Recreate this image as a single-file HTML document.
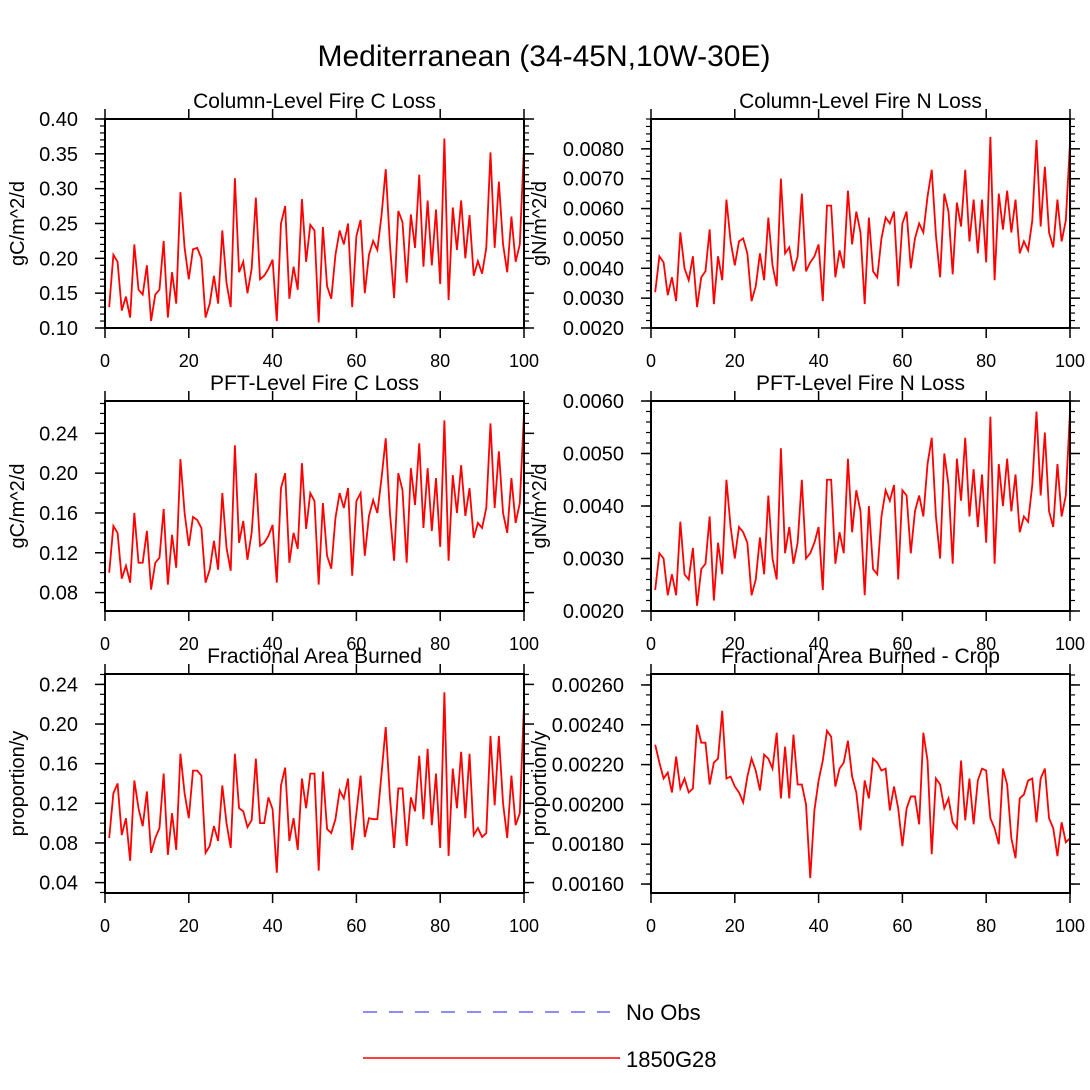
<!DOCTYPE html>
<html><head><meta charset="utf-8"><style>
body{margin:0;background:#fff}
svg{display:block;font-family:"Liberation Sans",sans-serif}
</style></head><body>
<svg id="c" width="1090" height="1090">
<text x="544" y="66" font-size="30" text-anchor="middle">Mediterranean (34-45N,10W-30E)</text>
<g>
<line x1="363" y1="1012" x2="610" y2="1012" stroke="#6666ff" stroke-width="1.5" stroke-dasharray="14,12"/>
<text x="626" y="1020" font-size="22">No Obs</text>
<line x1="363" y1="1058" x2="620" y2="1058" stroke="#ff0000" stroke-width="1.5"/>
<text x="626" y="1067" font-size="22">1850G28</text>
</g>
</svg>
<script>
const years=[];for(let i=1;i<=100;i++)years.push(i);
const colC=[0.13,0.205,0.195,0.125,0.145,0.115,0.22,0.155,0.148,0.19,0.11,0.148,0.155,0.225,0.115,0.18,0.135,0.295,0.215,0.17,0.213,0.215,0.2,0.115,0.135,0.175,0.135,0.24,0.165,0.13,0.315,0.18,0.195,0.15,0.185,0.287,0.17,0.175,0.185,0.198,0.11,0.25,0.275,0.142,0.188,0.155,0.285,0.195,0.248,0.24,0.108,0.245,0.16,0.142,0.205,0.24,0.22,0.25,0.13,0.232,0.255,0.15,0.205,0.225,0.212,0.262,0.328,0.22,0.143,0.268,0.252,0.165,0.263,0.215,0.32,0.188,0.283,0.19,0.27,0.163,0.372,0.14,0.273,0.212,0.283,0.2,0.262,0.175,0.196,0.178,0.215,0.352,0.215,0.31,0.22,0.18,0.26,0.195,0.22,0.36];
const colN=[0.0032,0.0044,0.0042,0.0031,0.0037,0.0029,0.0052,0.0040,0.0036,0.0044,0.0027,0.0037,0.0039,0.0053,0.0028,0.0044,0.0036,0.0063,0.0049,0.0041,0.0049,0.0050,0.0045,0.0029,0.0034,0.0045,0.0036,0.0057,0.0041,0.0034,0.0070,0.0045,0.0047,0.0039,0.0044,0.0065,0.0039,0.0042,0.0044,0.0048,0.0029,0.0061,0.0061,0.0037,0.0046,0.0040,0.0066,0.0048,0.0059,0.0052,0.0028,0.0057,0.0039,0.0037,0.0050,0.0057,0.0055,0.0059,0.0034,0.0055,0.0059,0.0040,0.0050,0.0055,0.0052,0.0064,0.0073,0.0051,0.0037,0.0065,0.0059,0.0038,0.0062,0.0054,0.0073,0.0049,0.0063,0.0045,0.0063,0.0042,0.0084,0.0036,0.0065,0.0053,0.0066,0.0052,0.0063,0.0045,0.0049,0.0046,0.0056,0.0083,0.0054,0.0074,0.0052,0.0047,0.0063,0.0049,0.0056,0.0082];
const pftC=[0.10,0.147,0.14,0.094,0.107,0.09,0.16,0.11,0.11,0.142,0.083,0.11,0.115,0.164,0.088,0.138,0.105,0.214,0.16,0.127,0.156,0.153,0.145,0.09,0.103,0.132,0.103,0.18,0.125,0.102,0.228,0.13,0.152,0.113,0.14,0.2,0.127,0.13,0.137,0.148,0.09,0.185,0.2,0.11,0.14,0.124,0.21,0.144,0.18,0.172,0.088,0.17,0.117,0.104,0.155,0.18,0.165,0.185,0.097,0.172,0.18,0.117,0.157,0.173,0.16,0.195,0.235,0.16,0.112,0.2,0.183,0.11,0.205,0.168,0.23,0.145,0.205,0.142,0.195,0.126,0.253,0.112,0.198,0.16,0.208,0.157,0.185,0.135,0.15,0.145,0.165,0.25,0.165,0.222,0.16,0.14,0.195,0.15,0.17,0.26];
const pftN=[0.0024,0.0031,0.0030,0.0023,0.0027,0.0023,0.0037,0.0027,0.0026,0.0032,0.0021,0.0028,0.0029,0.0038,0.0022,0.0033,0.0027,0.0045,0.0036,0.0030,0.0036,0.0035,0.0033,0.0023,0.0026,0.0034,0.0027,0.0042,0.0030,0.0026,0.0051,0.0031,0.0036,0.0029,0.0033,0.0045,0.0030,0.0031,0.0033,0.0036,0.0024,0.0045,0.0045,0.0029,0.0035,0.0031,0.0049,0.0035,0.0043,0.0039,0.0023,0.0040,0.0028,0.0027,0.0038,0.0043,0.0041,0.0044,0.0026,0.0043,0.0042,0.0031,0.0039,0.0042,0.0038,0.0048,0.0053,0.0038,0.0030,0.0050,0.0044,0.0029,0.0049,0.0041,0.0053,0.0038,0.0047,0.0036,0.0046,0.0033,0.0057,0.0029,0.0048,0.0040,0.0049,0.0039,0.0046,0.0035,0.0038,0.0037,0.0044,0.0058,0.0042,0.0054,0.0039,0.0036,0.0048,0.0038,0.0042,0.0058];
const fab=[0.085,0.13,0.14,0.088,0.105,0.062,0.143,0.115,0.097,0.132,0.07,0.085,0.095,0.15,0.068,0.11,0.073,0.17,0.13,0.105,0.153,0.153,0.148,0.07,0.077,0.097,0.082,0.138,0.1,0.075,0.17,0.115,0.112,0.096,0.103,0.165,0.1,0.1,0.126,0.114,0.05,0.138,0.156,0.082,0.105,0.073,0.145,0.115,0.15,0.15,0.052,0.152,0.094,0.09,0.104,0.133,0.125,0.145,0.073,0.11,0.148,0.086,0.105,0.104,0.104,0.15,0.197,0.126,0.075,0.135,0.135,0.077,0.126,0.112,0.168,0.104,0.175,0.098,0.15,0.075,0.232,0.067,0.155,0.115,0.172,0.105,0.17,0.088,0.095,0.086,0.09,0.188,0.118,0.188,0.12,0.085,0.148,0.098,0.11,0.22];
const fabCrop=[0.00230,0.00221,0.00213,0.00216,0.00206,0.00224,0.00208,0.00213,0.00206,0.00208,0.00240,0.00231,0.00231,0.00210,0.00221,0.00223,0.00247,0.00213,0.00214,0.00209,0.00206,0.00201,0.00214,0.00223,0.00217,0.00207,0.00225,0.00223,0.00218,0.00236,0.00203,0.00229,0.00203,0.00235,0.00210,0.00210,0.00200,0.00163,0.00197,0.00212,0.00222,0.00237,0.00234,0.00209,0.00218,0.00221,0.00232,0.00214,0.00206,0.00187,0.00212,0.00203,0.00223,0.00221,0.00217,0.00218,0.00197,0.00209,0.00198,0.00179,0.00198,0.00204,0.00204,0.00190,0.00236,0.00222,0.00175,0.00213,0.00210,0.00198,0.00203,0.00191,0.00188,0.00222,0.00192,0.00213,0.00190,0.00212,0.00218,0.00217,0.00193,0.00188,0.00180,0.00218,0.00210,0.00183,0.00173,0.00203,0.00205,0.00212,0.00213,0.00191,0.00213,0.00218,0.00193,0.00188,0.00174,0.00191,0.00181,0.00183];
const xTicks=[0,20,40,60,80,100];
const NS="http://www.w3.org/2000/svg";
const svg=document.getElementById('c');
function el(t,a,p){const e=document.createElementNS(NS,t);for(const k in a)e.setAttribute(k,a[k]);(p||svg).appendChild(e);return e;}
const panels=[
 {n:'column-fire-c',title:'Column-Level Fire C Loss',yt:'gC/m^2/d',data:colC,x0:105,y0:119,y1:328,ymin:0.10,ymax:0.40,maj:0.05,min:0.01,dec:2,ytx:24},
 {n:'column-fire-n',title:'Column-Level Fire N Loss',yt:'gN/m^2/d',data:colN,x0:651,y0:119,y1:328,ymin:0.0020,ymax:0.0090,maj:0.001,min:0.00025,dec:4,ytx:546,t0:0.002,t1:0.008},
 {n:'pft-fire-c',title:'PFT-Level Fire C Loss',yt:'gC/m^2/d',data:pftC,x0:105,y0:401,y1:611,ymin:0.0615,ymax:0.2725,maj:0.04,min:0.01,dec:2,ytx:24,t0:0.08,t1:0.24},
 {n:'pft-fire-n',title:'PFT-Level Fire N Loss',yt:'gN/m^2/d',data:pftN,x0:651,y0:401,y1:611,ymin:0.0020,ymax:0.0060,maj:0.001,min:0.0002,dec:4,ytx:546},
 {n:'frac-area-burned',title:'Fractional Area Burned',yt:'proportion/y',data:fab,x0:105,y0:674,y1:893,ymin:0.0295,ymax:0.2505,maj:0.04,min:0.01,dec:2,ytx:24,t0:0.04,t1:0.24},
 {n:'frac-area-burned-crop',title:'Fractional Area Burned - Crop',yt:'proportion/y',data:fabCrop,x0:651,y0:674,y1:893,ymin:0.001555,ymax:0.002655,maj:0.0002,min:0.00005,dec:5,ytx:546,t0:0.0016,t1:0.0026}
];
panels.forEach(p=>{
 const W=419;
 const g=el('g',{});
 
 
 const X=v=>p.x0+v/100*W;
 const Y=v=>p.y1-(v-p.ymin)/(p.ymax-p.ymin)*(p.y1-p.y0);
 const t0=p.t0!==undefined?p.t0:p.ymin, t1=p.t1!==undefined?p.t1:p.ymax;
 const nMin=Math.round((p.ymax-p.ymin)/p.min)+2;
 let start=Math.ceil((p.ymin-1e-12)/p.min)*p.min;
 for(let k=0;k<nMin;k++){const v=start+k*p.min;if(v>p.ymax+1e-12)break;const y=Y(v);
  el('line',{x1:p.x0-5,x2:p.x0,y1:y,y2:y,stroke:'#000','stroke-width':1.2},g);
  el('line',{x1:p.x0+W,x2:p.x0+W+5,y1:y,y2:y,stroke:'#000','stroke-width':1.2},g);}
 const nMaj=Math.round((t1-t0)/p.maj);
 for(let k=0;k<=nMaj;k++){const v=t0+k*p.maj;const y=Y(v);
  el('line',{x1:p.x0-10,x2:p.x0,y1:y,y2:y,stroke:'#000','stroke-width':1.5},g);
  el('line',{x1:p.x0+W,x2:p.x0+W+10,y1:y,y2:y,stroke:'#000','stroke-width':1.5},g);
  const t=el('text',{x:p.x0-27,y:y+7,'font-size':20,'text-anchor':'end'},g);t.textContent=v.toFixed(p.dec);
  
  }
 xTicks.forEach(v=>{const x=X(v);
  el('line',{x1:x,x2:x,y1:p.y1,y2:p.y1+10,stroke:'#000','stroke-width':1.5},g);
  el('line',{x1:x,x2:x,y1:p.y0-10,y2:p.y0,stroke:'#000','stroke-width':1.5},g);
  const t=el('text',{x:x,y:p.y1+39,'font-size':18,'text-anchor':'middle'},g);t.textContent=v;
  
  });
 let d='';p.data.forEach((v,i)=>{d+=(i?'L':'M')+X(years[i]).toFixed(2)+','+Y(v).toFixed(2);});
 const line=el('path',{d:d,fill:'none',stroke:'#ff0000','stroke-width':1.8,'stroke-linejoin':'miter'},g);
 
 
 el('rect',{x:p.x0,y:p.y0,width:W,height:p.y1-p.y0,fill:'none',stroke:'#000','stroke-width':2},g);
 const tt=el('text',{x:p.x0+W/2,y:p.y0-11,'font-size':21,'text-anchor':'middle'},g);tt.textContent=p.title;
 
 
 const ym=(p.y0+p.y1)/2;
 const yt=el('text',{x:p.ytx,y:ym,'font-size':20,'text-anchor':'middle',transform:'rotate(-90 '+p.ytx+' '+ym+')'},g);yt.textContent=p.yt;
 
 
});
</script>
</body></html>
